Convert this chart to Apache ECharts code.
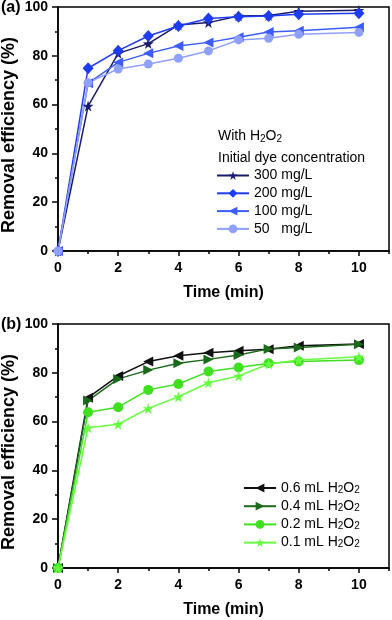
<!DOCTYPE html>
<html><head><meta charset="utf-8">
<script src="https://cdn.jsdelivr.net/npm/echarts@6/dist/echarts.min.js"></script>
<style>html,body{margin:0;padding:0;background:#fff}#c{width:392px;height:620px}</style>
</head><body><div id="c"></div>
<script>
// x values (min)
const timeA = [0,1,2,3,4,5,6,7,8,10];
const timeB = [0,1,2,3,4,5,6,7,8,10];
// panel (a): initial dye concentration
const namesA = ['300 mg/L','200 mg/L','100 mg/L','50   mg/L'];
const c300 = [0,59.4,81.0,85.0,92.6,93.6,96.3,96.5,98.3,98.7];
const c200 = [0,74.9,82.1,88.1,92.2,95.3,96.0,96.3,97.0,97.4];
const c100 = [0,68.7,77.3,81.0,84.0,85.5,87.6,89.8,90.3,91.7];
const c50  = [0,69.0,74.6,76.6,79.0,82.0,86.5,87.2,88.8,89.6];
// panel (b): H2O2 volume
const namesB = ['0.6 mL H2O2','0.4 mL H2O2','0.2 mL H2O2','0.1 mL H2O2'];
const h06 = [0,69.8,78.7,84.6,87.0,88.2,89.0,89.7,91.1,91.8];
const h04 = [0,68.6,77.5,81.1,83.9,85.5,87.3,89.8,90.4,91.7];
const h02 = [0,63.8,65.9,73.0,75.4,80.5,82.2,83.9,84.6,85.2];
const h01 = [0,57.5,58.9,65.4,70.2,75.9,78.7,83.6,85.2,86.6];
const yTicks = [0,20,40,60,80,100];
const xTicks = [0,2,4,6,8,10];

const FONT = 'Liberation Sans, Arial, sans-serif';
const STAR = 'path://M50,0 L61,35 L98,35 L68,57 L79,91 L50,70 L21,91 L32,57 L2,35 L39,35 Z';
const LTRI = 'path://M0,50 L90,0 L90,100 Z';
const RTRI = 'path://M90,50 L0,0 L0,100 Z';

function pairs(xs, ys){ return xs.map((x,i)=>[x, ys[i]]); }

function mkSeries(name, xs, ys, color, symbol, size, gi){
  return {
    name, type:'line', xAxisIndex: gi*2, yAxisIndex: gi,
    data: pairs(xs, ys), symbol, symbolSize: size,
    lineStyle:{color, width:1.5}, itemStyle:{color},
    clip:false, animation:false
  };
}

function yAx(gi){
  return {
    gridIndex: gi, type:'value', min:0, max:100, interval:20,
    axisLine:{show:true, lineStyle:{color:'#000', width:1.5}},
    axisTick:{show:true, inside:false, length:6, lineStyle:{color:'#000', width:1.5}},
    minorTick:{show:true, splitNumber:2, length:3, lineStyle:{color:'#000', width:1.5}},
    splitLine:{show:false},
    axisLabel:{fontFamily:FONT, fontWeight:'bold', fontSize:14, color:'#000', margin:10,
      formatter: v => yTicks.includes(v) ? String(v) : ''},
    name:'Removal efficiency (%)', nameLocation:'middle', nameGap:40, nameMoveOverlap:false,
    nameTextStyle:{fontFamily:FONT, fontWeight:'bold', fontSize:18, color:'#000', padding:[0,12,0,0]}
  };
}
function xAxMinor(gi){
  return {
    gridIndex: gi, type:'value', min:0, max:11, interval:1, position:'bottom',
    axisLine:{show:true, onZero:false, lineStyle:{color:'#000', width:1.5}},
    axisTick:{show:true, inside:false, length:3, lineStyle:{color:'#000', width:1.5}},
    splitLine:{show:false}, axisLabel:{show:false},
    name:'Time (min)', nameLocation:'middle', nameGap:34, nameMoveOverlap:false,
    nameTextStyle:{fontFamily:FONT, fontWeight:'bold', fontSize:16, color:'#000'}
  };
}
function xAxMajor(gi){
  return {
    gridIndex: gi, type:'value', min:0, max:11, interval:2, position:'bottom', offset:0,
    axisLine:{show:false, onZero:false},
    axisTick:{show:true, inside:false, length:5, lineStyle:{color:'#000', width:1.5}},
    splitLine:{show:false},
    axisLabel:{fontFamily:FONT, fontWeight:'bold', fontSize:14, color:'#000', margin:10,
      showMaxLabel:false, formatter: v => xTicks.includes(v) ? String(v) : ''}
  };
}

const series = [
  mkSeries(namesA[0], timeA, c300, '#1b1b6e', STAR, 11, 0),
  mkSeries(namesA[1], timeA, c200, '#1f3cf5', 'diamond', [11,12], 0),
  mkSeries(namesA[2], timeA, c100, '#3d5cff', LTRI, 10, 0),
  mkSeries(namesA[3], timeA, c50,  '#8fa0ff', 'circle', 9, 0),
  mkSeries(namesB[0], timeB, h06, '#111111', LTRI, 10, 1),
  mkSeries(namesB[1], timeB, h04, '#1b6a1b', RTRI, 10, 1),
  mkSeries(namesB[2], timeB, h02, '#3ee020', 'circle', 10, 1),
  mkSeries(namesB[3], timeB, h01, '#66ff40', STAR, 11, 1)
];

const legendText = {fontFamily:FONT, fontSize:14, color:'#000',
  rich:{n:{fontFamily:FONT, fontSize:14, color:'#000', lineHeight:14}, s:{fontFamily:FONT, fontSize:10, color:'#000', lineHeight:14, padding:[4,0,0,0]}}};

const option = {
  backgroundColor:'#fff',
  animation:false,
  textStyle:{fontFamily:FONT},
  title:[
    {text:'(a)', left:1, top:0, padding:0, textStyle:{fontFamily:FONT, fontWeight:'bold', fontSize:16, color:'#000'}},
    {text:'(b)', left:1, top:317, padding:0, textStyle:{fontFamily:FONT, fontWeight:'bold', fontSize:16, color:'#000'}},
    {text:'{n|With H}{s|2}{n|O}{s|2}', left:218, top:128, padding:0,
      textStyle:{fontWeight:'normal', rich:{n:{fontFamily:FONT, fontSize:14, fontWeight:'normal', color:'#000'}, s:{fontFamily:FONT, fontSize:10, fontWeight:'normal', color:'#000', padding:[6,0,0,0]}}}},
    {text:'Initial dye concentration', left:218, top:151, padding:0,
      textStyle:{fontFamily:FONT, fontSize:14, fontWeight:'normal', color:'#000'}}
  ],
  grid:[
    {left:58, top:7, width:331, height:244, show:true, borderColor:'#000', borderWidth:1.5, backgroundColor:'transparent', containLabel:false, outerBoundsMode:'none'},
    {left:58, top:324, width:331, height:244, show:true, borderColor:'#000', borderWidth:1.5, backgroundColor:'transparent', containLabel:false, outerBoundsMode:'none'}
  ],
  xAxis:[xAxMinor(0), xAxMajor(0), xAxMinor(1), xAxMajor(1)],
  yAxis:[yAx(0), yAx(1)],
  legend:[
    {data:namesA, orient:'vertical', left:216, top:168.5, padding:0, itemWidth:32, itemHeight:11, itemGap:3.8,
      textStyle:{fontFamily:FONT, fontSize:14, color:'#000'}},
    {data:namesB, orient:'vertical', left:243, top:481, padding:0, itemWidth:32, itemHeight:11, itemGap:4.2,
      textStyle:legendText,
      formatter: n => '{n|' + n.replace('H2O2','H}{s|2}{n|O}{s|2}')}
  ],
  series
};
const chart = echarts.init(document.getElementById('c'), null, {renderer:'canvas'});
chart.setOption(option);
</script></body></html>
